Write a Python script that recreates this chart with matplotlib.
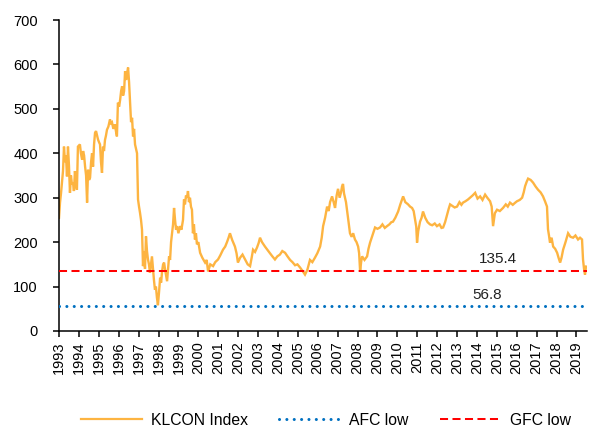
import matplotlib
matplotlib.use("Agg")
import matplotlib.pyplot as plt
from matplotlib.lines import Line2D

# ---- data (decimal year, index level) ----
years = [
    1993.00, 1993.05, 1993.10, 1993.15, 1993.20, 1993.25, 1993.30, 1993.35, 1993.40, 1993.45,
    1993.50, 1993.55, 1993.60, 1993.65, 1993.70, 1993.75, 1993.80, 1993.85, 1993.90, 1993.95,
    1994.05, 1994.10, 1994.16, 1994.21, 1994.26, 1994.31, 1994.36, 1994.41, 1994.46, 1994.51,
    1994.56, 1994.61, 1994.66, 1994.71, 1994.76, 1994.81, 1994.86, 1994.91, 1994.96, 1995.01,
    1995.06, 1995.11, 1995.16, 1995.21, 1995.26, 1995.31, 1995.36, 1995.41, 1995.48, 1995.56,
    1995.61, 1995.66, 1995.73, 1995.81, 1995.86, 1995.91, 1995.96, 1996.02, 1996.07, 1996.12,
    1996.17, 1996.22, 1996.27, 1996.32, 1996.37, 1996.42, 1996.47, 1996.52, 1996.57, 1996.62,
    1996.67, 1996.72, 1996.77, 1996.82, 1996.87, 1996.92, 1996.97, 1997.02, 1997.07, 1997.12,
    1997.17, 1997.22, 1997.27, 1997.32, 1997.37, 1997.42, 1997.47, 1997.52, 1997.57, 1997.62,
    1997.67, 1997.72, 1997.77, 1997.82, 1997.87, 1997.92, 1997.97, 1998.03, 1998.08, 1998.13,
    1998.18, 1998.23, 1998.28, 1998.33, 1998.38, 1998.43, 1998.48, 1998.53, 1998.58, 1998.63,
    1998.68, 1998.73, 1998.78, 1998.83, 1998.88, 1998.93, 1999.00, 1999.08, 1999.15, 1999.23,
    1999.28, 1999.33, 1999.38, 1999.43, 1999.48, 1999.53, 1999.58, 1999.63, 1999.68, 1999.73,
    1999.78, 1999.83, 1999.88, 1999.93, 2000.00, 2000.09, 2000.20, 2000.34, 2000.42, 2000.49,
    2000.60, 2000.74, 2000.85, 2000.99, 2001.10, 2001.24, 2001.35, 2001.44, 2001.52, 2001.59,
    2001.70, 2001.84, 2001.92, 2001.99, 2002.10, 2002.22, 2002.35, 2002.48, 2002.60, 2002.68,
    2002.75, 2002.85, 2002.95, 2003.03, 2003.10, 2003.20, 2003.35, 2003.48, 2003.60, 2003.72,
    2003.85, 2003.97, 2004.10, 2004.22, 2004.36, 2004.48, 2004.61, 2004.73, 2004.86, 2004.98,
    2005.11, 2005.24, 2005.36, 2005.48, 2005.61, 2005.73, 2005.86, 2005.98, 2006.12, 2006.20,
    2006.27, 2006.37, 2006.47, 2006.55, 2006.62, 2006.72, 2006.80, 2006.87, 2006.95, 2007.02,
    2007.10, 2007.17, 2007.22, 2007.27, 2007.32, 2007.37, 2007.42, 2007.47, 2007.55, 2007.62,
    2007.70, 2007.78, 2007.87, 2007.95, 2008.03, 2008.08, 2008.13, 2008.18, 2008.23, 2008.35,
    2008.48, 2008.55, 2008.63, 2008.75, 2008.88, 2009.00, 2009.13, 2009.25, 2009.37, 2009.48,
    2009.60, 2009.70, 2009.78, 2009.90, 2010.04, 2010.15, 2010.29, 2010.40, 2010.54, 2010.64,
    2010.74, 2010.82, 2010.89, 2010.95, 2010.99, 2011.05, 2011.14, 2011.22, 2011.29, 2011.40,
    2011.52, 2011.64, 2011.75, 2011.88, 2011.99, 2012.12, 2012.22, 2012.30, 2012.40, 2012.50,
    2012.58, 2012.65, 2012.75, 2012.88, 2013.00, 2013.12, 2013.22, 2013.30, 2013.42, 2013.55,
    2013.65, 2013.78, 2013.91, 2014.03, 2014.16, 2014.28, 2014.41, 2014.52, 2014.66, 2014.74,
    2014.81, 2014.90, 2015.01, 2015.15, 2015.31, 2015.45, 2015.55, 2015.66, 2015.80, 2015.90,
    2016.01, 2016.15, 2016.27, 2016.35, 2016.42, 2016.50, 2016.57, 2016.70, 2016.82, 2016.95,
    2017.07, 2017.20, 2017.32, 2017.42, 2017.52, 2017.57, 2017.62, 2017.67, 2017.75, 2017.83,
    2017.93, 2018.03, 2018.10, 2018.18, 2018.25, 2018.33, 2018.45, 2018.58, 2018.70, 2018.83,
    2018.95, 2019.08, 2019.18, 2019.28, 2019.33, 2019.38, 2019.43, 2019.48,
]
klcon = [
    255, 289, 310, 334, 360, 415, 380, 395, 348, 415,
    372, 311, 350, 330, 334, 315, 360, 335, 318, 415,
    420, 400, 386, 405, 395, 370, 350, 289, 363, 340,
    345, 380, 400, 370, 420, 446, 450, 440, 431, 425,
    420, 380, 356, 415, 405, 430, 440, 453, 460, 476,
    468, 470, 455, 465, 450, 438, 514, 505, 520, 540,
    551, 530, 540, 585, 565, 580, 593, 560, 514, 470,
    480, 438, 455, 420, 410, 400, 296, 280, 266, 250,
    228, 146, 180, 140, 213, 180, 161, 150, 131, 150,
    168, 140, 115, 93, 100, 75, 58, 90, 120, 109,
    135, 150, 154, 138, 125, 112, 140, 168, 160, 200,
    220, 240, 277, 250, 228, 236, 220, 236, 228, 250,
    296, 285, 305, 300, 315, 290, 300, 280, 273, 220,
    240, 206, 220, 195, 200, 176, 165, 154, 160, 134,
    150, 146, 155, 161, 170, 183, 190, 200, 210, 220,
    205, 190, 175, 154, 165, 172, 161, 150, 146, 165,
    183, 178, 188, 198, 210, 200, 190, 182, 175, 168,
    161, 168, 172, 180, 176, 168, 160, 155, 148, 150,
    143, 135, 127, 138, 160, 155, 165, 175, 190, 210,
    236, 255, 280, 270, 290, 303, 290, 277, 305, 320,
    300, 312, 325, 331, 310, 300, 290, 273, 245, 220,
    212, 220, 206, 200, 190, 175, 134, 155, 168, 160,
    168, 185, 199, 215, 233, 230, 233, 240, 232, 236,
    240, 245, 246, 255, 269, 285, 303, 290, 285, 280,
    277, 270, 251, 235, 199, 225, 246, 255, 269, 255,
    245, 240, 238, 242, 236, 240, 232, 233, 245, 262,
    275, 285, 282, 278, 280, 290, 284, 289, 292, 296,
    300, 305, 311, 298, 303, 295, 307, 300, 292, 280,
    236, 265, 273, 270, 277, 285, 280, 289, 284, 288,
    292, 295, 300, 312, 326, 336, 343, 340, 334, 325,
    318, 312, 303, 292, 280, 229, 215, 199, 210, 190,
    185, 176, 165, 154, 165, 183, 200, 220, 212, 210,
    215, 206, 210, 206, 161, 140, 127, 145,
]

afc_low = 56.8
gfc_low = 135.4
year_ticks = list(range(1993, 2020))
y_ticks = [0, 100, 200, 300, 400, 500, 600, 700]

plt.rcParams['font.family'] = ['Liberation Sans', 'DejaVu Sans']

fig = plt.figure(figsize=(5.89, 4.32), dpi=100)
ax = fig.add_axes([0.1002, 0.2338, 0.8964, 0.7199])

orange = '#FDB441'
blue = '#0070C0'
red = '#FF0000'

ax.plot(years, klcon, color=orange, lw=1.7, label='KLCON Index', zorder=2,
        solid_joinstyle='miter')
ax.axhline(afc_low, color=blue, lw=2.2, linestyle=(0, (0.01, 2.4)),
           dash_capstyle='round', label='AFC low', zorder=3)
ax.axhline(gfc_low, color=red, lw=1.45, linestyle=(0, (4.0, 2.2)),
           label='GFC low', zorder=3)

ax.text(2015.03, 161, f"{gfc_low:.1f}", ha='center', va='center', fontsize=11, color='#222222')
ax.text(2014.53, 80.6, f"{afc_low:.1f}", ha='center', va='center', fontsize=11, color='#222222')

ax.set_xlim(1993, 2019.53)
ax.set_ylim(0, 700)
ax.set_xticks(year_ticks)
ax.set_xticklabels([str(y) for y in year_ticks], rotation=90, fontsize=10.5)
ax.set_yticks(y_ticks)
ax.set_yticklabels([str(v) for v in y_ticks], fontsize=10.5)

for s in ['top', 'right']:
    ax.spines[s].set_visible(False)
for s in ['left', 'bottom']:
    ax.spines[s].set_linewidth(1.1)
    ax.spines[s].set_color('black')
ax.tick_params(axis='both', direction='out', length=4.3, width=1.1, colors='black', pad=3)
ax.tick_params(axis='y', pad=11)

handles = [
    Line2D([], [], color=orange, lw=1.6),
    Line2D([], [], color=blue, lw=2.2, linestyle=(0, (0.01, 2.4)), dash_capstyle='round'),
    Line2D([], [], color=red, lw=1.45, linestyle=(0, (4.0, 2.2))),
]
fig.legend(handles, ['KLCON Index', 'AFC low', 'GFC low'], loc='center',
           bbox_to_anchor=(0.553, 0.027), ncol=3, frameon=False, fontsize=11.3,
           handlelength=3.9, handletextpad=0.55, columnspacing=2.0)

fig.savefig('out.png', dpi=100)
